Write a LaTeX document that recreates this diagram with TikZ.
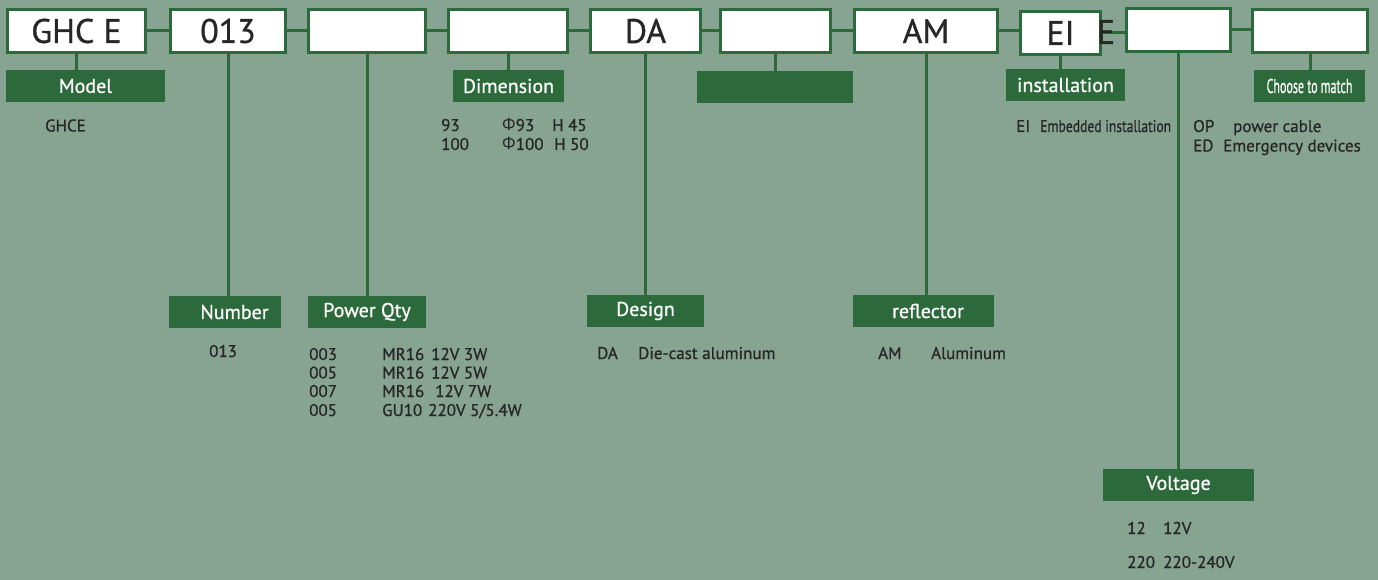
\documentclass[tikz,border=0pt]{standalone}
\usepackage{fontspec}
\setmainfont{PT Sans}[RawFeature={embolden=0.8}]
\newfontfamily\grk{Open Sans}
\usetikzlibrary{positioning}
\definecolor{Sage}{HTML}{87A391}
\definecolor{Leaf}{HTML}{2C693B}
\definecolor{Ink}{HTML}{262626}

\begin{document}
\begin{tikzpicture}[x=1pt, y=-1pt,
    code/.style={draw=Leaf, line width=2.6pt, fill=white, minimum height=43.5pt,
                 inner sep=0pt, font=\fontsize{34}{36}\selectfont, text=Ink},
    tag/.style={fill=Leaf, minimum height=32pt, inner sep=0pt,
                font=\fontsize{20}{22}\selectfont, text=white},
    txt/.style={anchor=base west, inner sep=0pt, font=\fontsize{17}{19}\selectfont, text=Ink},
    ln/.style={draw=Leaf, line width=3pt}]
    \fill[Sage] (0,0) rectangle (1378,580);
    \useasboundingbox (0,0) rectangle (1378,580);
    % code boxes
    \node[code, minimum width=138.5pt] (bmodel) at (76.5,31)   {GHC E\hspace{11pt}};
    \node[code, minimum width=115.5pt] (bnum)   at (228,31)    {013\hspace{6pt}};
    \node[code, minimum width=117.5pt] (bpow)   at (367,31)    {};
    \node[code, minimum width=119.5pt] (bdim)   at (508,31)    {};
    \node[code, minimum width=110.5pt] (bdes)   at (645.5,31)  {DA\hspace{9pt}};
    \node[code, minimum width=110.5pt] (bnone)  at (775.5,31)  {};
    \node[code, minimum width=143.5pt] (brefl)  at (926,31)    {AM\hspace{6pt}};
    \node[code, minimum width=80.5pt]  (binst)  at (1060.5,33) {EI\hspace{5pt}};
    \node[code, minimum width=104.5pt] (bvolt)  at (1178.5,30) {};
    \node[code, minimum width=115.5pt] (bopt)   at (1310,31)   {};
    % tags
    \node[tag, minimum width=159pt] (tmodel) at (85.5,86)    {Model\hspace{9pt}};
    \node[tag, minimum width=112pt] (tnum)   at (225,312)    {\hspace{19pt}Number};
    \node[tag, minimum width=118pt] (tpow)   at (367,312)    {Power Qty\hspace{8pt}};
    \node[tag, minimum width=111pt] (tdim)   at (508.5,86)   {Dimension};
    \node[tag, minimum width=117pt] (tdes)   at (645.5,311)  {Design\hspace{10pt}};
    \node[tag, minimum width=156pt] (tnone)  at (775,87)     {};
    \node[tag, minimum width=141pt] (trefl)  at (923.5,311)  {\hspace{9pt}reflector};
    \node[tag, minimum width=119pt] (tinst)  at (1065.5,85)  {installation};
    \node[tag, minimum width=151pt] (tvolt)  at (1178.5,485) {Voltage};
    \node[tag, minimum width=111pt] (topt)   at (1309.5,86)  {\scalebox{0.6}[1]{Choose to match}\hspace{8pt}};
    % links
    \foreach \a/\b in {bmodel/bnum, bnum/bpow, bpow/bdim, bdim/bdes, bdes/bnone,
                       bnone/brefl, brefl/binst, binst/bvolt, bvolt/bopt}
      \draw[ln] (\a.east) -- (\a.east -| \b.west);
    \foreach \a/\b in {bmodel/tmodel, bnum/tnum, bpow/tpow, bdim/tdim, bdes/tdes,
                       bnone/tnone, brefl/trefl, binst/tinst, bvolt/tvolt, bopt/topt}
      \draw[ln] (\a.south) -- (\a.south |- \b.north);
    \node[inner sep=0pt, font=\fontsize{34}{36}\selectfont, text=Ink] (einst) at (1106,32) {E};
    % option texts
    \node[txt] (xmodel) at (45,131.5) {GHCE};
    \node[txt] (xd1a) at (441,131) {93};
    \node[txt] (xd1b) at (502,131) {{\grk Φ}93};
    \node[txt] (xd1c) at (552,131) {H 45};
    \node[txt] (xd2a) at (441,150) {100};
    \node[txt] (xd2b) at (502,150) {{\grk Φ}100};
    \node[txt] (xd2c) at (554,150) {H 50};
    \node[txt] (xi1a) at (1016,132) {EI};
    \node[txt] (xi1b) at (1040,132) {\scalebox{0.8}[1]{Embedded installation}};
    \node[txt] (xo1a) at (1193,132) {OP};
    \node[txt] (xo1b) at (1233,132) {power cable};
    \node[txt] (xo2a) at (1193,151.5) {ED};
    \node[txt] (xo2b) at (1223,151.5) {Emergency devices};
    \node[txt] (xnum) at (209,357) {013};
    \foreach \i/\y/\c/\l/\r/\xr in {1/360/003/MR16/{12V 3W}/431, 2/378.5/005/MR16/{12V 5W}/431,
                                 3/397/007/MR16/{12V 7W}/435, 4/416/005/GU10/{220V 5/5.4W}/428} {
      \node[txt] (xp\i a) at (309,\y) {\c};
      \node[txt] (xp\i b) at (382,\y) {\l};
      \node[txt] (xp\i c) at (\xr,\y) {\r};
    }
    \node[txt] (xdesa) at (597,359) {DA};
    \node[txt] (xdesb) at (638,359) {Die-cast aluminum};
    \node[txt] (xrefa) at (878,359) {AM};
    \node[txt] (xrefb) at (931,359) {Aluminum};
    \node[txt] (xv1a) at (1127,534) {12};
    \node[txt] (xv1b) at (1163,534) {12V};
    \node[txt] (xv2a) at (1127,568) {220};
    \node[txt] (xv2b) at (1163,568) {220-240V};
\end{tikzpicture}
\end{document}
